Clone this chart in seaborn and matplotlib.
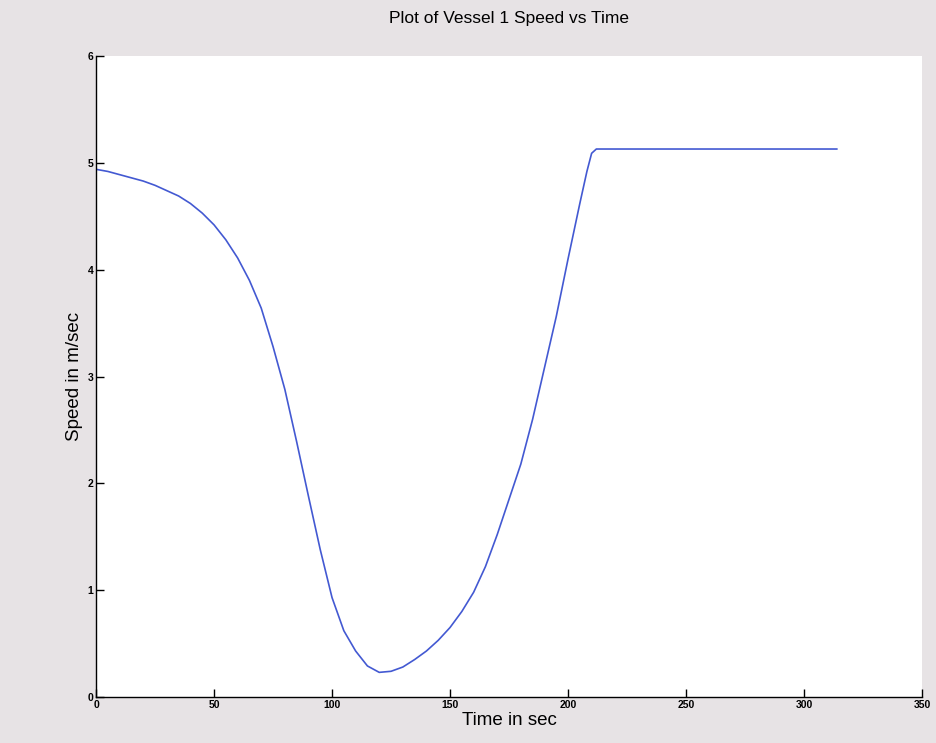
import pandas as pd
import seaborn as sns
import matplotlib
matplotlib.use("Agg")
import matplotlib.pyplot as plt

# values
time_sec = [0, 5, 10, 15, 20, 25, 30, 35, 40, 45, 50, 55, 60, 65, 70, 75, 80,
            85, 90, 95, 100, 105, 110, 115, 120, 125, 130, 135, 140, 145, 150,
            155, 160, 165, 170, 175, 180, 185, 190, 195, 200, 205, 208, 210,
            212, 314]
speed_ms = [4.94, 4.92, 4.89, 4.86, 4.83, 4.79, 4.74, 4.69, 4.62, 4.53, 4.42,
            4.28, 4.11, 3.90, 3.64, 3.28, 2.88, 2.39, 1.88, 1.38, 0.93, 0.62,
            0.43, 0.29, 0.23, 0.24, 0.28, 0.35, 0.43, 0.53, 0.65, 0.80, 0.98,
            1.22, 1.52, 1.85, 2.18, 2.60, 3.08, 3.56, 4.10, 4.62, 4.92, 5.09,
            5.13, 5.13]
x_ticks = [0, 50, 100, 150, 200, 250, 300, 350]
y_ticks = [0, 1, 2, 3, 4, 5, 6]

df = pd.DataFrame({"Time": time_sec, "Speed": speed_ms})

sns.set_style("ticks")
plt.rcParams["font.family"] = ["Liberation Sans", "DejaVu Sans"]
plt.rcParams["xtick.direction"] = "in"
plt.rcParams["ytick.direction"] = "in"
plt.rcParams["text.color"] = "black"
plt.rcParams["axes.labelcolor"] = "black"
plt.rcParams["xtick.color"] = "black"
plt.rcParams["ytick.color"] = "black"

fig = plt.figure(figsize=(9.37, 7.43), dpi=100, facecolor="#e7e3e5")
ax = fig.add_axes([0.1025, 0.062, 0.8815, 0.8625])
ax.set_facecolor("white")

sns.lineplot(data=df, x="Time", y="Speed", sort=False, estimator=None,
             color="#4359d2", linewidth=1.2, ax=ax)

ax.set_xlim(0, 350)
ax.set_ylim(0, 6)
ax.set_xticks(x_ticks)
ax.set_yticks(y_ticks)
ax.tick_params(axis="both", labelsize=7.5, length=6, width=1.0, pad=2)
for lab in ax.get_xticklabels() + ax.get_yticklabels():
    lab.set_fontweight("bold")

sns.despine(ax=ax, top=True, right=True)
for side in ["left", "bottom"]:
    ax.spines[side].set_color("black")
    ax.spines[side].set_linewidth(1.0)

ax.set_title("Plot of Vessel 1 Speed vs Time", fontsize=12.5, pad=24)
ax.set_xlabel("Time in sec", fontsize=13.5, labelpad=2)
ax.set_ylabel("Speed in m/sec", fontsize=13.5, labelpad=3)

fig.savefig("out.png", dpi=100, facecolor=fig.get_facecolor())
